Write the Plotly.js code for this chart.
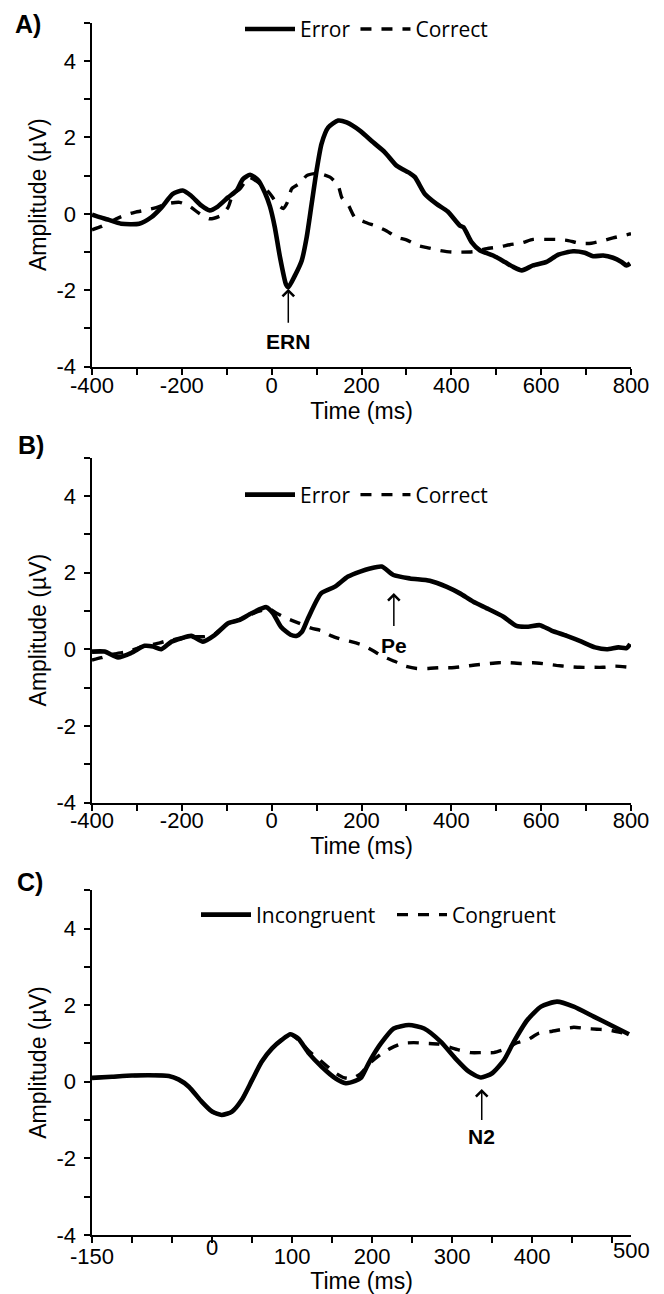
<!DOCTYPE html>
<html>
<head>
<meta charset="utf-8">
<script src="https://cdn.plot.ly/plotly-3.0.1.min.js"></script>
<style>
html,body{margin:0;padding:0;background:#fff;}
#chart{width:664px;height:1294px;}
</style>
</head>
<body>
<div id="chart"></div>
<script>
// ---------- Panel A: ERN (response-locked) ----------
const timeErrorA = [-400,-385,-365,-335,-295,-268,-245,-220,-198,-180,-157,-138,-120,-97,-78,-64,-48,-30,-15,-4,7,18,32,37,52,67,78,89,100,111,126,148,167,197,226,252,278,308,319,341,367,392,419,427,445,464,493,519,538,557,582,612,638,671,697,716,738,760,779,790,798];
const ampErrorA  = [-0.02,-0.08,-0.15,-0.26,-0.26,-0.09,0.17,0.52,0.61,0.48,0.22,0.09,0.19,0.43,0.61,0.91,1.02,0.88,0.55,0.20,-0.35,-1.10,-1.85,-1.92,-1.61,-1.22,-0.61,0.26,1.13,1.83,2.26,2.44,2.39,2.17,1.87,1.61,1.26,1.06,0.96,0.52,0.26,0.06,-0.31,-0.35,-0.74,-0.96,-1.09,-1.26,-1.39,-1.48,-1.35,-1.26,-1.07,-0.98,-1.02,-1.11,-1.09,-1.15,-1.26,-1.35,-1.30];
const timeCorrectA = [-400,-379,-346,-330,-305,-279,-257,-234,-205,-182,-160,-138,-112,-97,-86,-71,-50,-19,-2,11,26,35,45,63,78,95,108,130,148,156,171,185,208,234,256,278,300,326,348,375,400,449,479,505,530,557,582,608,634,660,686,712,738,760,790,800];
const ampCorrectA  = [-0.42,-0.33,-0.13,-0.05,0.04,0.10,0.16,0.26,0.30,0.19,0.00,-0.13,-0.04,0.17,0.52,0.65,0.95,0.72,0.50,0.28,0.14,0.30,0.66,0.80,1.00,1.05,1.05,0.96,0.74,0.43,0.22,-0.09,-0.22,-0.33,-0.45,-0.61,-0.68,-0.83,-0.89,-0.96,-1.00,-0.99,-0.91,-0.87,-0.81,-0.76,-0.67,-0.67,-0.67,-0.70,-0.77,-0.77,-0.70,-0.63,-0.55,-0.52];

// ---------- Panel B: Pe ----------
const timeErrorB = [-400,-372,-342,-312,-283,-264,-246,-223,-201,-179,-153,-127,-97,-71,-45,-12,3,21,42,55,67,81,110,140,170,197,219,245,271,308,352,390,419,449,479,516,545,571,597,623,657,690,720,746,772,790,798];
const ampErrorB  = [-0.06,-0.06,-0.21,-0.09,0.09,0.07,0.00,0.20,0.29,0.35,0.20,0.37,0.68,0.77,0.94,1.10,0.94,0.58,0.38,0.35,0.45,0.81,1.46,1.63,1.90,2.03,2.11,2.16,1.94,1.85,1.79,1.63,1.46,1.24,1.07,0.85,0.61,0.59,0.63,0.49,0.35,0.20,0.05,0.00,0.05,0.03,0.14];
const timeCorrectB = [-400,-379,-350,-320,-290,-249,-227,-200,-178,-149,-127,-97,-71,-45,-20,-5,10,33,59,88,110,133,155,177,200,226,248,275,297,323,349,375,401,427,453,479,505,530,556,582,608,634,660,686,712,738,764,798];
const ampCorrectB  = [-0.28,-0.22,-0.12,-0.06,0.06,0.17,0.24,0.28,0.33,0.33,0.40,0.66,0.78,0.92,1.02,1.05,0.95,0.81,0.69,0.55,0.49,0.35,0.26,0.20,0.12,-0.04,-0.19,-0.32,-0.44,-0.50,-0.50,-0.48,-0.48,-0.45,-0.41,-0.38,-0.35,-0.35,-0.37,-0.35,-0.38,-0.42,-0.45,-0.47,-0.47,-0.47,-0.44,-0.47];

// ---------- Panel C: N2 (stimulus-locked) ----------
const timeIncongC = [-150,-125,-100,-79,-54,-42,-29,-13,0,12,25,37,50,62,75,87,98,108,121,137,154,167,179,186,192,198,211,227,246,265,286,304,321,336,350,365,377,394,411,431,452,477,498,521];
const ampIncongC  = [0.10,0.13,0.16,0.17,0.15,0.06,-0.13,-0.52,-0.78,-0.87,-0.78,-0.48,0.04,0.52,0.87,1.09,1.24,1.12,0.74,0.39,0.09,-0.04,0.02,0.10,0.33,0.57,1.00,1.39,1.48,1.39,1.04,0.61,0.26,0.11,0.22,0.57,1.04,1.61,1.96,2.09,1.96,1.70,1.48,1.24];
const timeCongC = [-150,-125,-100,-79,-54,-42,-29,-13,0,12,25,37,50,62,75,87,98,110,121,135,152,164,174,185,198,211,223,238,252,267,283,308,323,338,352,369,379,394,408,423,438,452,467,481,496,521];
const ampCongC  = [0.10,0.13,0.16,0.17,0.15,0.06,-0.13,-0.52,-0.78,-0.87,-0.78,-0.48,0.04,0.52,0.87,1.09,1.24,1.05,0.80,0.56,0.26,0.11,0.08,0.20,0.50,0.72,0.87,1.00,1.02,1.00,0.98,0.83,0.76,0.76,0.76,0.87,1.00,1.09,1.26,1.31,1.37,1.42,1.39,1.37,1.35,1.24];

// ---------- Axis ticks ----------
const ampTickVals = [-4,-3,-2,-1,0,1,2,3,4,5];
const ampTickText = ['-4','','-2','','0','','2','','4',''];
const timeTickValsAB = [-400,-300,-200,-100,0,100,200,300,400,500,600,700,800];
const timeTickTextAB = ['-400','','-200','','0','','200','','400','','600','','800'];
const timeTickValsC = [-150,-100,-50,0,50,100,150,200,250,300,350,400,450,500];
const timeTickTextC = ['-150','','','','','100','','200','','300','','400','',''];

const seriesNames = {A: ['Error','Correct'], B: ['Error','Correct'], C: ['Incongruent','Congruent']};

// ---------- Styles ----------
const solidLine = {color:'#000', width:4.6, shape:'spline', smoothing:0.6};
const dashLine = {color:'#000', width:3.4, dash:'11px,10px', shape:'spline', smoothing:0.6};

const traces = [
  {x:timeErrorA, y:ampErrorA, name:seriesNames.A[0], mode:'lines', line:solidLine, xaxis:'x', yaxis:'y', legend:'legend'},
  {x:timeCorrectA, y:ampCorrectA, name:seriesNames.A[1], mode:'lines', line:dashLine, xaxis:'x', yaxis:'y', legend:'legend'},
  {x:timeErrorB, y:ampErrorB, name:seriesNames.B[0], mode:'lines', line:solidLine, xaxis:'x2', yaxis:'y2', legend:'legend2'},
  {x:timeCorrectB, y:ampCorrectB, name:seriesNames.B[1], mode:'lines', line:dashLine, xaxis:'x2', yaxis:'y2', legend:'legend2'},
  {x:timeIncongC, y:ampIncongC, name:seriesNames.C[0], mode:'lines', line:solidLine, xaxis:'x3', yaxis:'y3', legend:'legend3'},
  {x:timeCongC, y:ampCongC, name:seriesNames.C[1], mode:'lines', line:dashLine, xaxis:'x3', yaxis:'y3', legend:'legend3'}
];

const W = 664, H = 1294;
const NARROW = 'Liberation Sans Narrow, Arial Narrow, Liberation Sans, sans-serif';
const axisFont = {family:NARROW, size:22, color:'#000'};
const titleFont = {family:NARROW, size:23, color:'#000'};
const yTitleFont = {family:'Liberation Sans, Arial, sans-serif', size:23, color:'#000'};
const legendFont = {family:'Open Sans, sans-serif', size:21, color:'#000'};

function xAxis(anchor, range, vals, text, standoff, tstand) {
  return {
    domain:[92/W, 631/W], range:range, anchor:anchor, automargin:false,
    tickmode:'array', tickvals:vals, ticktext:text,
    ticks:'outside', ticklen:6, tickwidth:2, tickcolor:'#000',
    showline:true, linewidth:2.5, linecolor:'#000', mirror:false,
    showgrid:false, zeroline:false, tickfont:axisFont, ticklabelstandoff:standoff,
    title:{text:'Time (ms)', font:titleFont, standoff:tstand}
  };
}
function yAxis(anchor, top, bottom) {
  return {
    domain:[1-bottom/H, 1-top/H], range:[-4,5], anchor:anchor, automargin:false,
    tickmode:'array', tickvals:ampTickVals, ticktext:ampTickText,
    ticks:'outside', ticklen:6, tickwidth:2, tickcolor:'#000',
    showline:true, linewidth:2.5, linecolor:'#000',
    showgrid:false, zeroline:false, tickfont:axisFont, ticklabelstandoff:3,
    title:{text:'Amplitude (\u00b5V)', font:yTitleFont, standoff:4}
  };
}
function legendAt(xpx, ypx, ew) {
  const lg = {orientation:'h', x:xpx/W, xanchor:'left', y:1-ypx/H, yanchor:'middle',
    font:legendFont, bgcolor:'rgba(0,0,0,0)', borderwidth:0, itemwidth:50, traceorder:'normal'};
  if (ew) { lg.entrywidth = ew; lg.entrywidthmode = 'pixels'; }
  return lg;
}
function panelLabel(text, xpx, ypx) {
  return {text:'<b>'+text+'</b>', xref:'paper', yref:'paper', x:xpx/W, y:1-ypx/H,
    xanchor:'center', yanchor:'middle', showarrow:false,
    font:{family:'Liberation Sans, Arial, sans-serif', size:25, color:'#000'}};
}
function peakLabel(text, xr, yr, x, y, ay, sso) {
  return {text:'<b>'+text+'</b>', xref:xr, yref:yr, x:x, y:y, ax:0, ay:ay,
    showarrow:true, arrowhead:4, arrowsize:1.5, arrowwidth:1.5, arrowcolor:'#000',
    standoff:0, startstandoff:sso,
    font:{family:NARROW, size:21, color:'#000'}};
}

const layout = {
  width:W, height:H, margin:{l:0,r:0,t:0,b:0},
  paper_bgcolor:'#fff', plot_bgcolor:'#fff', showlegend:true,
  xaxis: xAxis('y', [-400,800], timeTickValsAB, timeTickTextAB, -9, 0),
  yaxis: yAxis('x', 22.7, 366.7),
  xaxis2: xAxis('y2', [-400,800], timeTickValsAB, timeTickTextAB, -9, 2),
  yaxis2: yAxis('x2', 457.8, 802.5),
  xaxis3: xAxis('y3', [-150,523.5], timeTickValsC, timeTickTextC, -6, 6),
  yaxis3: yAxis('x3', 890.2, 1234.9),
  legend: legendAt(240, 29.3),
  legend2: legendAt(240, 495),
  legend3: legendAt(196, 915, 131),
  annotations: [
    panelLabel('A)', 27.5, 23.5),
    panelLabel('B)', 31, 445),
    panelLabel('C)', 30, 882),
    peakLabel('ERN', 'x', 'y', 37, -1.96, 53, 6),
    peakLabel('Pe', 'x2', 'y2', 272, 1.47, 52, 6),
    peakLabel('N2', 'x3', 'y3', 337, -0.19, 48, 4),
    {text:'0', xref:'x3', yref:'paper', x:0, y:1-1247/H, showarrow:false,
     xanchor:'center', yanchor:'middle', font:axisFont},
    {text:'500', xref:'x3', yref:'paper', x:523.5, y:1-1250/H, showarrow:false,
     xanchor:'center', yanchor:'middle', font:axisFont}
  ]
};

Plotly.newPlot('chart', traces, layout, {displayModeBar:false, staticPlot:true});
</script>
</body>
</html>
